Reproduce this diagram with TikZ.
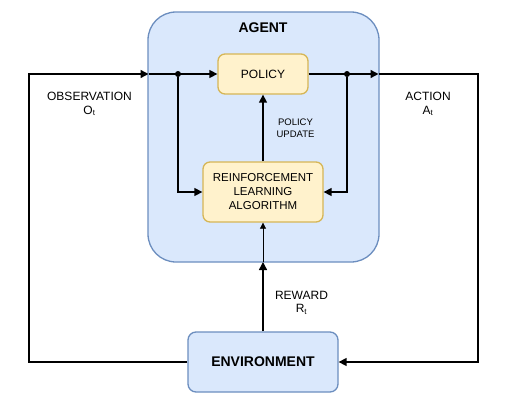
\documentclass[tikz,border=0pt]{standalone}
\usepackage{fontspec}
\setmainfont{Liberation Sans}
\usetikzlibrary{arrows.meta,positioning,calc}
\definecolor{bluefill}{HTML}{DAE8FC}
\definecolor{bluedraw}{HTML}{6C8EBF}
\definecolor{yelfill}{HTML}{FFF2CC}
\definecolor{yeldraw}{HTML}{D6B656}
\tikzset{
  agentbox/.style={draw=bluedraw,fill=bluefill,line width=1.3pt,rounded corners=28pt,minimum width=231pt,minimum height=250pt,inner sep=0pt},
  envbox/.style={draw=bluedraw,fill=bluefill,line width=1.3pt,rounded corners=8pt,minimum width=150pt,minimum height=60pt,font=\fontsize{14}{16}\selectfont\bfseries},
  yelbox/.style={draw=yeldraw,fill=yelfill,line width=1.3pt,rounded corners=7pt,align=center,inner sep=0pt},
  flow/.style={line width=1.4pt,-{Triangle[length=8pt,width=8pt]}},
  dot/.style={circle,fill=black,inner sep=0pt,minimum size=6pt},
  lbl/.style={font=\fontsize{12}{13.5}\selectfont,align=center},
  smalllbl/.style={font=\fontsize{9.5}{12}\selectfont,align=center}
}
\begin{document}
\begin{tikzpicture}[x=1pt,y=-1pt]
\useasboundingbox (0,0) rectangle (531,410);
\node[agentbox] (agent) at (263.5,137) {};
\node[font=\fontsize{14}{16}\selectfont\bfseries] (agentlbl) at (263,28) {AGENT};
\node[yelbox,minimum width=90pt,minimum height=40pt,font=\fontsize{12}{14}\selectfont] (policy) at (263,74) {POLICY};
\node[yelbox,minimum width=120pt,minimum height=60pt,font=\fontsize{11.5}{14}\selectfont] (rl) at (263,192) {REINFORCEMENT\\LEARNING\\ALGORITHM};
\node[envbox] (env) at (263,362) {ENVIRONMENT};
\coordinate (agl) at (148.5,74);
\coordinate (agr) at (378.5,74);
\coordinate (bl) at (29,74);
\coordinate (tr) at (478,74);
\node[dot] (dl) at (178,74) {};
\node[dot] (dr) at (347,74) {};
\coordinate (agb) at (263,262);
% observation
\draw[flow] (env.west) -| (bl) -- (agl);
\draw[flow] (agl) -- (policy.west);
\draw[flow] (dl) |- (rl.west);
% action
\draw[flow] (policy.east) -- (agr);
\draw[flow] (agr) -| (tr) |- (env.east);
\draw[flow] (dr) |- (rl.east);
% policy update
\draw[flow] (rl.north) -- (policy.south);
% reward
\draw[flow] (env.north) -- (agb);
\draw[line width=0.7pt,-{Triangle[length=6pt,width=6pt]}] (agb) -- (rl.south);
% labels
\node[lbl] (obs) at (89.5,104) {OBSERVATION\\O\textsubscript{t}};
\node[lbl] (act) at (428,104) {ACTION\\A\textsubscript{t}};
\node[smalllbl] (pu) at (295.5,128) {POLICY\\UPDATE};
\node[lbl] (rew) at (301.5,303) {REWARD\\R\textsubscript{t}};
\end{tikzpicture}
\end{document}
